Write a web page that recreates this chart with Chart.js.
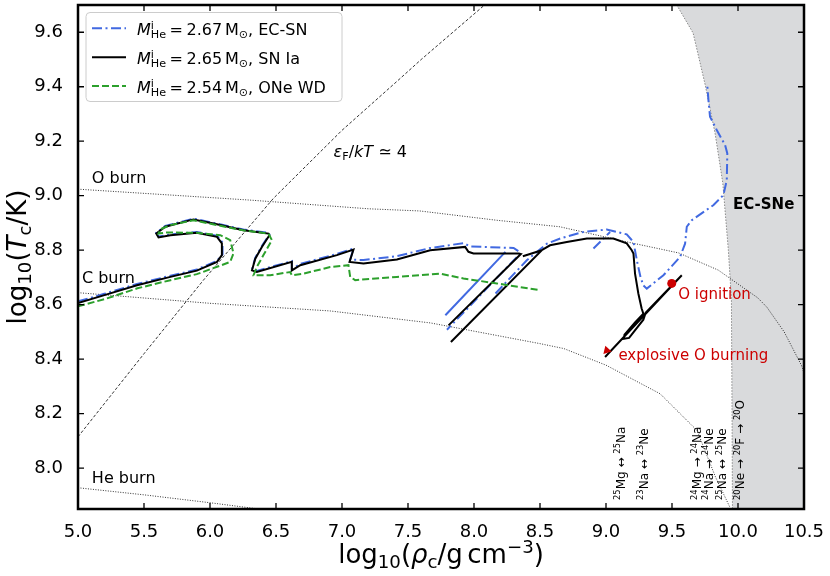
<!DOCTYPE html>
<html><head><meta charset="utf-8">
<script src="https://cdn.jsdelivr.net/npm/chart.js@4.4.1/dist/chart.umd.min.js"></script>
<style>html,body{margin:0;padding:0;background:#fff}#wrap{width:830px;height:576px;position:relative}</style>
</head><body><div id="wrap"><canvas id="c"></canvas></div>
<script>
const FONT = '"DejaVu Sans", "Liberation Sans", sans-serif';

// ---- axis ticks ----
const xTickValues = [5.0,5.5,6.0,6.5,7.0,7.5,8.0,8.5,9.0,9.5,10.0,10.5];
const yTickValues = [8.0,8.2,8.4,8.6,8.8,9.0,9.2,9.4,9.6];

// ---- tracks: log10(rho_c), log10(T_c) ----
const ecsnRho = [5.00,5.20,5.447,5.70,5.90,6.053,6.095,6.095,6.056,5.90,5.70,5.61,5.593,5.661,5.875,6.027,6.254,6.443,6.45,6.393,6.343,6.318,6.355,6.62,6.62,6.684,6.961,7.087,7.062,7.163,7.416,7.668,7.92,7.97,8.30,8.355,7.795,null,8.163,8.40,8.552,8.653,8.829,9.006,9.157,9.208,9.235,9.262,9.283,9.309,9.435,9.561,9.599,9.612,9.65,9.813,9.889,9.915,9.919,9.902,9.839,9.788,9.776,9.768,null,8.905,9.031];
const ecsnT   = [8.612,8.640,8.676,8.706,8.729,8.761,8.785,8.828,8.852,8.867,8.858,8.850,8.864,8.889,8.916,8.900,8.876,8.864,8.858,8.815,8.772,8.729,8.724,8.760,8.730,8.750,8.786,8.806,8.765,8.764,8.778,8.808,8.826,8.814,8.808,8.790,8.508,null,8.641,8.763,8.824,8.843,8.867,8.876,8.858,8.830,8.760,8.700,8.671,8.659,8.708,8.775,8.824,8.886,8.910,8.965,9.002,9.057,9.155,9.186,9.241,9.290,9.351,9.400,null,8.806,8.867];
const ecsnStreakRho = [7.783,8.238];
const ecsnStreakT   = [8.561,8.794];

const sn1aRho = [5.00,5.20,5.447,5.70,5.90,6.053,6.09,6.09,6.053,5.90,5.70,5.61,5.593,5.661,5.875,6.027,6.254,6.443,6.45,6.393,6.343,6.318,6.355,6.62,6.62,6.684,6.961,7.087,7.057,7.163,7.416,7.668,7.933,7.958,7.996,8.337,8.355,7.807,null,7.825,8.514,8.37,8.514,8.576,8.703,8.855,9.006,9.056,9.157,9.195,9.208,9.22,9.245,9.27,9.283,9.22,9.14,9.135,9.175,9.283,9.30,9.574,8.993];
const sn1aT   = [8.606,8.635,8.671,8.702,8.725,8.757,8.782,8.825,8.849,8.864,8.855,8.847,8.861,8.886,8.913,8.898,8.873,8.861,8.855,8.812,8.769,8.726,8.720,8.757,8.726,8.745,8.782,8.802,8.757,8.751,8.766,8.800,8.812,8.794,8.788,8.788,8.786,8.524,null,8.463,8.800,8.778,8.800,8.818,8.830,8.843,8.843,8.843,8.825,8.800,8.788,8.714,8.641,8.586,8.567,8.535,8.490,8.475,8.478,8.545,8.570,8.708,8.408];

const oneRho = [5.00,5.20,5.45,5.70,5.90,6.053,6.153,6.178,6.153,6.078,5.90,5.674,5.61,5.625,5.70,5.875,6.053,6.25,6.443,6.469,6.405,6.355,6.33,6.456,6.608,6.62,6.708,6.91,7.049,7.062,7.10,7.416,7.744,7.92,8.173,8.50];
const oneT   = [8.594,8.620,8.660,8.690,8.712,8.739,8.757,8.788,8.837,8.855,8.864,8.865,8.861,8.877,8.892,8.910,8.892,8.873,8.861,8.837,8.782,8.739,8.708,8.708,8.720,8.708,8.714,8.738,8.745,8.702,8.690,8.702,8.714,8.696,8.678,8.653];

// ---- markers ----
const ignitionRho = [9.498]; const ignitionT = [8.678];
const arrowRho = [9.006];    const arrowT = [8.432];

// ---- reference lines ----
const oBurnRho = [5.0,6.3,7.2,7.59,8.17,8.65,9.21,9.55,9.85,10.15,10.22,10.35,10.48,10.5];
const oBurnT   = [9.024,8.984,8.952,8.944,8.910,8.886,8.825,8.790,8.727,8.625,8.590,8.500,8.378,8.350];
const cBurnRho = [5.0,6.0,6.91,7.67,8.5,8.68,9.0,9.41,9.69,9.77,9.83,9.94];
const cBurnT   = [8.644,8.605,8.577,8.533,8.457,8.439,8.378,8.273,8.138,8.040,7.967,7.855];
const heBurnRho = [5.0,5.5,6.0,6.45];
const heBurnT   = [7.928,7.902,7.873,7.845];
const degenRho = [5.0,5.5,5.95,6.48,7.0,7.44,7.6,8.08];
const degenT   = [8.115,8.42,8.69,8.99,9.24,9.43,9.50,9.70];
const ecRegionRho = [9.536,9.66,9.75,9.826,9.885,9.927,9.95,9.955,9.958,10.5];
const ecRegionT   = [9.70,9.597,9.41,9.23,9.046,8.80,8.62,8.2,7.85,7.85];

function pts(xs, ys){ return xs.map((x,i)=>({x:x, y:ys[i]})); }

// ---- text helpers ----
function fontStr(size, it, bold){ return (it?'italic ':'')+(bold?'bold ':'')+size+'px '+FONT; }
function richLayout(ctx, segs, size, bold){
  const items=[]; let w=0;
  for(const s of segs){
    if(typeof s==='string'){ const f=fontStr(size,false,bold); ctx.font=f; items.push({t:s,x:w,dy:0,f}); w+=ctx.measureText(s).width; }
    else if(s.sp!==undefined){ w+=s.sp*size; }
    else if(s.sub!==undefined||s.sup!==undefined){
      const ss=size*0.7; const f=fontStr(ss,false,bold); ctx.font=f; let mw=0;
      if(s.sub!==undefined){ mw=Math.max(mw,ctx.measureText(s.sub).width); items.push({t:s.sub,x:w,dy:size*0.2,f}); }
      if(s.sup!==undefined){ mw=Math.max(mw,ctx.measureText(s.sup).width); items.push({t:s.sup,x:w,dy:-size*0.38,f}); }
      w+=mw;
    } else { const f=fontStr(size,s.i,s.b||bold); ctx.font=f; items.push({t:s.t,x:w,dy:0,f}); w+=ctx.measureText(s.t).width; }
  }
  return {items,w};
}
function drawRich(ctx, segs, x, y, size, align, color, bold){
  const L=richLayout(ctx,segs,size,bold);
  const x0 = align==='center'? x-L.w/2 : align==='right'? x-L.w : x;
  ctx.fillStyle=color||'#000'; ctx.textBaseline='alphabetic'; ctx.textAlign='left';
  for(const it of L.items){ ctx.font=it.f; ctx.fillText(it.t, x0+it.x, y+it.dy); }
}

const RED = '#cc0000';
const BLUE = '#4169e1';
const GREEN = '#2ca02c';

// text annotations in data coordinates
const notes = [
  {segs:['O burn'], x:5.105, y:9.046, size:16},
  {segs:['C burn'], x:5.03, y:8.68, size:16},
  {segs:['He burn'], x:5.105, y:7.945, size:16},
  {segs:[{t:'ε',i:true},{sub:'F'},'/',{t:'kT',i:true},' ≃ 4'], x:6.936, y:9.142, size:16},
  {segs:['EC-SNe'], x:9.962, y:8.95, size:15, bold:true},
  {segs:['O ignition'], x:9.547, y:8.622, size:15, color:RED},
  {segs:['explosive O burning'], x:9.094, y:8.396, size:15, color:RED}
];
const rotNotes = [
  {segs:[{sup:'25'},'Mg ↔ ',{sup:'25'},'Na'], x:9.108},
  {segs:[{sup:'23'},'Na ↔ ',{sup:'23'},'Ne'], x:9.283},
  {segs:[{sup:'24'},'Mg → ',{sup:'24'},'Na'], x:9.688},
  {segs:[{sup:'24'},'Na → ',{sup:'24'},'Ne'], x:9.775},
  {segs:[{sup:'25'},'Na ↔ ',{sup:'25'},'Ne'], x:9.877},
  {segs:[{sup:'20'},'Ne → ',{sup:'20'},'F → ',{sup:'20'},'O'], x:10.016}
];
const legendRows = [
  {color:BLUE, dash:[10,3.5,2,3.5], mass:'2.67', label:', EC-SN'},
  {color:'#000', dash:[], mass:'2.65', label:', SN Ia'},
  {color:GREEN, dash:[7,3], mass:'2.54', label:', ONe WD'}
];

const deco = {
  id:'deco',
  afterDatasetsDraw(chart){
    const {ctx, chartArea:a, scales:{x, y}} = chart;
    ctx.save();
    ctx.beginPath(); ctx.rect(a.left,a.top,a.right-a.left,a.bottom-a.top); ctx.clip();
    for(const n of notes){
      drawRich(ctx, n.segs, x.getPixelForValue(n.x), y.getPixelForValue(n.y), n.size, 'left', n.color, n.bold);
    }
    for(const r of rotNotes){
      ctx.save();
      ctx.translate(x.getPixelForValue(r.x), 500);
      ctx.rotate(-Math.PI/2);
      drawRich(ctx, r.segs, 0, 12*0.36, 12, 'left', '#000');
      ctx.restore();
    }
    ctx.restore();

    ctx.save();
    // frame
    ctx.strokeStyle='#000'; ctx.lineWidth=2.5;
    ctx.strokeRect(a.left, a.top, a.right-a.left, a.bottom-a.top);
    // inward ticks
    ctx.lineWidth=1.3;
    ctx.beginPath();
    for(const v of xTickValues){
      const p=x.getPixelForValue(v);
      ctx.moveTo(p,a.bottom); ctx.lineTo(p,a.bottom-6);
      ctx.moveTo(p,a.top); ctx.lineTo(p,a.top+6);
    }
    for(const v of yTickValues){
      const p=y.getPixelForValue(v);
      ctx.moveTo(a.left,p); ctx.lineTo(a.left+6,p);
      ctx.moveTo(a.right,p); ctx.lineTo(a.right-6,p);
    }
    ctx.stroke();

    // axis titles
    drawRich(ctx, ['log',{sub:'10'},'(',{t:'ρ',i:true},{sub:'c'},'/g',{sp:0.17},'cm',{sup:'−3'},')'], (a.left+a.right)/2, 563, 26, 'center', '#000');
    ctx.save();
    ctx.translate(25.5, (a.top+a.bottom)/2);
    ctx.rotate(-Math.PI/2);
    drawRich(ctx, ['log',{sub:'10'},'(',{t:'T',i:true},{sub:'c'},'/K)'], 0, 0, 26, 'center', '#000');
    ctx.restore();

    // legend
    const bx=86, by=12.5, bw=256, bh=89, r=4;
    ctx.beginPath();
    ctx.moveTo(bx+r,by); ctx.lineTo(bx+bw-r,by); ctx.quadraticCurveTo(bx+bw,by,bx+bw,by+r);
    ctx.lineTo(bx+bw,by+bh-r); ctx.quadraticCurveTo(bx+bw,by+bh,bx+bw-r,by+bh);
    ctx.lineTo(bx+r,by+bh); ctx.quadraticCurveTo(bx,by+bh,bx,by+bh-r);
    ctx.lineTo(bx,by+r); ctx.quadraticCurveTo(bx,by,bx+r,by); ctx.closePath();
    ctx.fillStyle='rgba(255,255,255,0.85)'; ctx.fill();
    ctx.strokeStyle='#cccccc'; ctx.lineWidth=1; ctx.stroke();
    legendRows.forEach((row,i)=>{
      const ly = 28.3 + i*28.9;
      ctx.beginPath(); ctx.setLineDash(row.dash); ctx.strokeStyle=row.color; ctx.lineWidth=2;
      ctx.moveTo(92,ly); ctx.lineTo(126,ly); ctx.stroke(); ctx.setLineDash([]);
      drawRich(ctx, [{t:'M',i:true},{sub:'He',sup:'i'},{sp:0.22},'=',{sp:0.22},row.mass,{sp:0.17},'M',{sub:'⊙'},row.label], 137, ly+6.5, 16, 'left', '#000');
    });
    ctx.restore();
  }
};

const lineDefaults = {pointRadius:0, fill:false, tension:0, spanGaps:false};

new Chart(document.getElementById('c'), {
  type:'line',
  data:{datasets:[
    Object.assign({data:pts(ecRegionRho,ecRegionT), fill:'end', backgroundColor:'#d9dadc', borderColor:'#888', borderWidth:1, borderDash:[1.5,1.5], order:100}, {pointRadius:0, tension:0}),
    Object.assign({}, lineDefaults, {data:pts(oBurnRho,oBurnT), borderColor:'#000', borderWidth:0.8, borderDash:[1,1.5], order:90}),
    Object.assign({}, lineDefaults, {data:pts(cBurnRho,cBurnT), borderColor:'#000', borderWidth:0.8, borderDash:[1,1.5], order:90}),
    Object.assign({}, lineDefaults, {data:pts(heBurnRho,heBurnT), borderColor:'#000', borderWidth:0.8, borderDash:[1,1.5], order:90}),
    Object.assign({}, lineDefaults, {data:pts(degenRho,degenT), borderColor:'#000', borderWidth:0.8, borderDash:[3,2], order:90}),
    Object.assign({}, lineDefaults, {data:pts(ecsnRho,ecsnT), borderColor:BLUE, borderWidth:2, borderDash:[10,3.5,2,3.5], order:30}),
    Object.assign({}, lineDefaults, {data:pts(ecsnStreakRho,ecsnStreakT), borderColor:BLUE, borderWidth:2, order:30}),
    Object.assign({}, lineDefaults, {data:pts(sn1aRho,sn1aT), borderColor:'#000', borderWidth:2, order:20}),
    Object.assign({}, lineDefaults, {data:pts(oneRho,oneT), borderColor:GREEN, borderWidth:2, borderDash:[7,3], order:10}),
    {data:pts(ignitionRho,ignitionT), showLine:false, pointRadius:4.5, pointStyle:'circle', backgroundColor:RED, borderColor:RED, borderWidth:0, order:5},
    {data:pts(arrowRho,arrowT), showLine:false, pointRadius:5, pointStyle:'triangle', rotation:223, backgroundColor:RED, borderColor:RED, borderWidth:0, order:5}
  ]},
  options:{
    responsive:true, maintainAspectRatio:false, animation:false, events:[],
    layout:{padding:{left:0,right:26,top:4,bottom:0}},
    plugins:{legend:{display:false}, tooltip:{enabled:false}},
    scales:{
      x:{type:'linear', min:5, max:10.5, grid:{display:false}, border:{display:false},
        ticks:{font:{family:FONT,size:18}, color:'#000', padding:5, maxRotation:0, autoSkip:false, callback:v=>Number(v).toFixed(1)},
        afterBuildTicks:s=>{ s.ticks = xTickValues.map(v=>({value:v})); },
        afterFit:s=>{ s.height=67; s.paddingLeft=0; s.paddingRight=0; }},
      y:{type:'linear', min:7.85, max:9.7, grid:{display:false}, border:{display:false},
        ticks:{font:{family:FONT,size:18}, color:'#000', padding:7, autoSkip:false, callback:v=>Number(v).toFixed(1)},
        afterBuildTicks:s=>{ s.ticks = yTickValues.map(v=>({value:v})); },
        afterFit:s=>{ s.width=78; s.paddingTop=0; s.paddingBottom=0; }}
    }
  },
  plugins:[deco]
});
</script></body></html>
